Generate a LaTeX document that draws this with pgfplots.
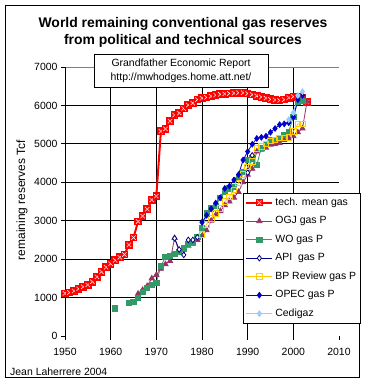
\documentclass[border=0pt]{standalone}
\usepackage{pgfplots}
\pgfplotsset{compat=1.18}
\usepackage{fontspec}
\setmainfont{Liberation Sans}
\definecolor{techred}{HTML}{FF0000}
\definecolor{ogj}{HTML}{993366}
\definecolor{wo}{HTML}{339966}
\definecolor{api}{HTML}{000080}
\definecolor{bp}{HTML}{FFCC00}
\definecolor{opec}{HTML}{0000CC}
\definecolor{cedi}{HTML}{99CCFF}
\pgfdeclareplotmark{sqx}{%
  \pgfpathrectangle{\pgfpoint{-\pgfplotmarksize}{-\pgfplotmarksize}}{\pgfpoint{2\pgfplotmarksize}{2\pgfplotmarksize}}%
  \pgfsetfillcolor{techred}\pgfusepath{fill}%
  \pgfsetstrokecolor{white}\pgfsetlinewidth{0.7bp}\pgfsetdash{{0.8bp}{0.5bp}}{0bp}%
  \pgfpathmoveto{\pgfpoint{-0.55\pgfplotmarksize}{-0.55\pgfplotmarksize}}\pgfpathlineto{\pgfpoint{0.55\pgfplotmarksize}{0.55\pgfplotmarksize}}%
  \pgfpathmoveto{\pgfpoint{-0.55\pgfplotmarksize}{0.55\pgfplotmarksize}}\pgfpathlineto{\pgfpoint{0.55\pgfplotmarksize}{-0.55\pgfplotmarksize}}%
  \pgfusepath{stroke}}
\begin{document}
\begin{tikzpicture}[x=1bp,y=1bp]
\useasboundingbox (0,0) rectangle (366,384);
\fill[white] (0,0) rectangle (366,384);
\draw[black, line width=0.8bp] (5,7) rectangle (359,379);
\begin{axis}[
  at={(65bp,48bp)}, anchor=south west,
  scale only axis, width=274bp, height=269bp,
  xmin=1950, xmax=2010, ymin=0, ymax=7000,
  xtick={1950,1960,1970,1980,1990,2000,2010},
  ytick={0,1000,2000,3000,4000,5000,6000,7000},
  tick align=outside, tick pos=left, major tick length=4bp,
  tick style={black, line width=0.8bp},
  axis line style={draw=none},
  ticklabel style={font=\fontsize{10.5}{12}\selectfont},
  x tick label style={yshift=-5bp},
  /pgf/number format/1000 sep={}, /pgf/number format/assume math mode=true,
  unbounded coords=jump,
  legend cell align=left,
  legend style={at={(0.6496,0.5316)}, anchor=north west, draw=black, line width=0.8bp, fill=white,
    font=\fontsize{10.5}{12}\selectfont, inner xsep=2bp, inner ysep=0bp, row sep=0bp,
    nodes={inner ysep=4bp, text height=8bp, text depth=2.5bp}},
  legend image code/.code={\draw[mark repeat=2,mark phase=2,#1] plot coordinates {(0bp,0bp) (13bp,0bp) (26bp,0bp)};},
]
\pgfplotsinvokeforeach{1960,1970,1980,1990,2000}{\draw[black,line width=0.8bp] (axis cs:#1,0) -- (axis cs:#1,7000);}
\pgfplotsinvokeforeach{1000,2000,3000,4000,5000,6000}{\draw[black,line width=0.8bp] (axis cs:1950,#1) -- (axis cs:2010,#1);}
\draw[gray,line width=0.8bp] (axis cs:1950,7000) -- (axis cs:2010,7000) -- (axis cs:2010,0);
\draw[black,line width=0.8bp] (axis cs:1950,7000) -- (axis cs:1950,0) -- (axis cs:2010,0);

\addplot[techred, line width=2bp, mark=sqx, mark size=3.8bp] coordinates {
(1950,1110) (1951,1130) (1952,1170) (1953,1230) (1954,1280) (1955,1330) (1956,1410) (1957,1540)
(1958,1670) (1959,1790) (1960,1880) (1961,1970) (1962,2050) (1963,2120) (1964,2370) (1965,2560)
(1966,2980) (1967,3120) (1968,3300) (1969,3540) (1970,3640) (1971,5330) (1972,5390) (1973,5590)
(1974,5750) (1975,5800) (1976,5920) (1977,6010) (1978,6060) (1979,6150) (1980,6190) (1981,6210)
(1982,6240) (1983,6270) (1984,6290) (1985,6300) (1986,6310) (1987,6320) (1988,6330) (1989,6330)
(1990,6310) (1991,6280) (1992,6250) (1993,6220) (1994,6190) (1995,6160) (1996,6140) (1997,6130)
(1998,6150) (1999,6200) (2000,6230) (2001,6220) (2002,6200) (2003,6090)};
\addlegendentry{tech. mean gas}

\addplot[ogj, line width=0.8bp, mark=triangle*, mark size=3bp, mark options={fill=ogj}] coordinates {
(1966,1100) (1967,1200) (1968,1300) (1969,1500) (1970,1590) (1971,1750) (1972,1870) (1973,1950)
(1974,2550) (1975,2200) (1976,2250) (1977,2350) (1978,2400) (1979,2500) (1980,2600) (1981,2750)
(1982,3000) (1983,3150) (1984,3250) (1985,3400) (1986,3500) (1987,3600) (1988,3750) (1989,4000)
(1990,4200) (1991,4350) (1992,4800) (1993,4850) (1994,4900) (1995,4980) (1996,5000) (1997,5020)
(1998,5100) (1999,5150) (2000,5200) (2001,5300) (2002,5400) (2003,6100)};
\addlegendentry{OGJ gas P}

\addplot[wo, line width=0.8bp, mark=square*, mark size=2.6bp, mark options={fill=wo}] coordinates {
(1961,720) (1962,nan) (1964,870) (1965,890) (1966,1000) (1967,1150) (1968,1250) (1969,1330)
(1970,1390) (1971,1820) (1972,2050) (1973,2080) (1974,2130) (1975,2190) (1976,2280) (1977,2400)
(1978,2450) (1979,2580) (1980,2800) (1981,3190) (1982,3320) (1983,3380) (1984,3600) (1985,3760)
(1986,3840) (1987,3880) (1988,4150) (1989,4280) (1990,4580) (1991,4620) (1992,4450) (1993,4900)
(1994,4990) (1995,5100) (1996,5100) (1997,5150) (1998,5230) (1999,5320) (2000,5700) (2001,6100)
(2002,6120)};
\addlegendentry{WO gas P}

\addplot[api, line width=0.8bp, mark=diamond*, mark size=2.8bp, mark options={fill=white, draw=api}] coordinates {
(1974,2540) (1975,2250) (1976,2110) (1977,2500) (1978,2500) (1979,2570) (1985,nan)
(1990,4250) (1991,4700)};
\addlegendentry{API\ \ gas P}

\addplot[bp, line width=0.8bp, mark=square, mark size=2.8bp, mark options={fill=white, draw=bp}] coordinates {
(1980,2640) (1981,2910) (1982,3060) (1983,3190) (1984,3320) (1985,3500) (1986,3620) (1987,3800)
(1988,3980) (1989,4200) (1990,4400) (1991,4550) (1992,4880) (1993,4930) (1994,5000) (1995,5080)
(1996,5100) (1997,5150) (1998,5160) (1999,5170) (2000,5320) (2001,5520) (2002,5520)};
\addlegendentry{BP Review gas P}

\addplot[opec, line width=0.8bp, mark=diamond*, mark size=2.8bp, mark options={fill=opec}] coordinates {
(1980,2960) (1981,3140) (1982,3310) (1983,3460) (1984,3600) (1985,3840) (1986,3900) (1987,4060)
(1988,4200) (1989,4580) (1990,4800) (1991,4990) (1992,5140) (1993,5170) (1994,5200) (1995,5300)
(1996,5400) (1997,5500) (1998,5520) (1999,5550) (2000,5700) (2001,6150) (2002,6260)};
\addlegendentry{OPEC gas P}

\addplot[cedi, line width=0.8bp, mark=diamond*, mark size=2.8bp, mark options={fill=cedi}] coordinates {
(1999,5630) (2000,5810) (2001,6260) (2002,6360)};
\addlegendentry{Cedigaz}
\end{axis}
\node[font=\fontsize{14}{17}\selectfont\bfseries, align=center] at (183,351.5) {World remaining conventional gas reserves\\from political and technical sources};
\node[draw=black, line width=0.8bp, fill=white, minimum width=174bp, minimum height=33bp, align=center, font=\fontsize{10.5}{14}\selectfont, inner sep=0] at (181,313.5) {Grandfather Economic Report\\http://mwhodges.home.att.net/};
\node[rotate=90, font=\fontsize{12}{14}\selectfont] at (22,184) {remaining reserves Tcf};
\node[anchor=west, font=\fontsize{10.5}{12}\selectfont, inner sep=0] at (10,12) {Jean Laherrere 2004};
\end{tikzpicture}
\end{document}
